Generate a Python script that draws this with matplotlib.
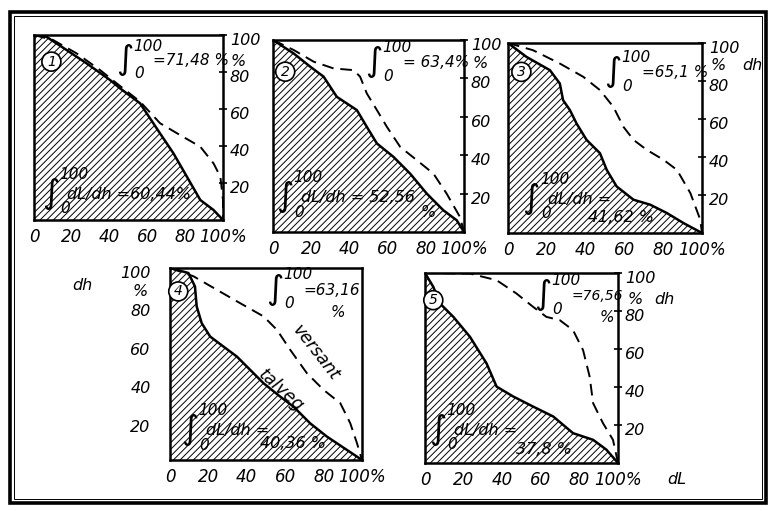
import matplotlib.pyplot as plt
from matplotlib.patches import Rectangle
from matplotlib.transforms import ScaledTranslation

plt.rcParams['font.family'] = ['DejaVu Sans']
plt.rcParams['font.style'] = 'italic'
plt.rcParams['hatch.linewidth'] = 0.7

W, H = 773, 511

# talveg (solid) and versant (dashed) curves, % dL vs % dh
talveg_x = [
    [0, 6.5, 17.2, 27.8, 40.2, 45.5, 56.1, 66.7, 73.8, 80.9, 88.0, 95.0, 100],
    [0, 10.8, 19.5, 26.5, 33.4, 43.9, 49.1, 54.4, 63.1, 71.8, 80.5, 89.2, 96.2, 100],
    [0, 9.5, 21.6, 26.7, 28.4, 31.9, 35.3, 40.5, 47.4, 50.9, 56.0, 64.7, 73.3, 81.9, 90.5, 100],
    [0, 9.6, 13.0, 13.9, 16.5, 20.9, 27.8, 34.8, 41.7, 48.7, 57.4, 64.3, 73.0, 81.7, 92.2, 100],
    [0, 4.3, 7.8, 14.7, 23.3, 31.9, 37.1, 45.7, 56.0, 66.4, 76.7, 87.1, 94.0, 100],
]
talveg_y = [
    [100, 99.1, 91.9, 84.7, 75.7, 71.2, 63.1, 46.8, 36.0, 23.4, 10.8, 5.4, 0],
    [100, 93.0, 86.1, 80.9, 70.4, 63.5, 54.8, 46.1, 39.1, 30.4, 20.0, 11.3, 6.1, 0],
    [100, 92.7, 85.7, 78.7, 69.9, 64.7, 57.7, 49.0, 42.0, 33.2, 24.5, 17.5, 14.9, 10.5, 5.2, 0],
    [100, 97.4, 90.4, 80.0, 71.3, 64.3, 59.1, 53.9, 47.0, 40.0, 33.0, 27.8, 19.1, 12.2, 5.2, 0],
    [100, 92.7, 83.9, 76.9, 66.4, 52.4, 40.2, 35.0, 29.7, 24.5, 15.7, 12.2, 7.0, 0],
]
versant_x = [
    [0, 10.1, 22.5, 34.9, 43.7, 56.1, 66.7, 77.3, 88.0, 95.0, 98.6, 100, 100],
    [0, 10.8, 21.3, 31.7, 42.2, 45.6, 49.1, 54.4, 59.6, 66.6, 75.3, 84.0, 90.9, 97.9, 100],
    [0, 12.9, 26.7, 38.8, 47.4, 54.3, 59.5, 64.7, 71.6, 80.2, 87.1, 94.0, 99.1, 100],
    [0, 12.2, 24.3, 36.5, 48.7, 55.7, 62.6, 71.3, 80.0, 88.7, 93.9, 97.4, 100],
    [0, 23.3, 37.1, 47.4, 56.0, 62.9, 69.8, 76.7, 81.9, 85.3, 87.1, 92.2, 97.4, 100],
]
versant_y = [
    [100, 97.3, 90.1, 81.1, 73.9, 64.0, 52.3, 45.9, 39.6, 30.6, 23.4, 10.8, 0],
    [100, 94.8, 88.7, 85.2, 84.3, 80.9, 72.2, 63.5, 54.8, 44.3, 37.4, 30.4, 20.0, 7.8, 0],
    [100, 96.2, 89.2, 82.2, 75.2, 66.4, 55.9, 49.0, 43.7, 38.5, 33.2, 21.0, 7.0, 0],
    [100, 95.7, 88.7, 81.7, 74.8, 67.8, 57.4, 45.2, 36.5, 29.6, 19.1, 8.7, 0],
    [100, 99.7, 96.2, 89.2, 82.2, 76.9, 75.2, 69.9, 59.4, 45.5, 31.5, 21.0, 12.2, 0],
]
versant_int = ['=71,48 %', '= 63,4%', '=65,1 %', '=63,16', '=76,56']
talveg_int = ['dL/dh =60,44%', 'dL/dh = 52,56', 'dL/dh =', 'dL/dh =', 'dL/dh =']
talveg_pct = ['', '%', '41,62 %', '40,36 %', '37,8 %']

xticks = [0, 20, 40, 60, 80, 100]
xlabels = ['0', '20', '40', '60', '80', '100%']
yticks = [20, 40, 60, 80, 100]
ylabels = ['20', '40', '60', '80', '100']

# axes boxes in pixels: left, top, right, bottom
boxes = [(34, 35, 223, 220), (273, 40, 464, 232), (508, 43, 702, 233),
         (170, 268, 362, 460), (425, 273, 618, 463)]

# annotation positions (axes fractions)
up_pos = [(0.48, 0.865), (0.53, 0.887), (0.54, 0.848), (0.545, 0.89), (0.61, 0.885)]
lo_pos = [(0.09, 0.144), (0.06, 0.183), (0.12, 0.183), (0.105, 0.157), (0.065, 0.175)]
circ_pos = [(0.092, 0.856), (0.064, 0.835), (0.069, 0.848), (0.043, 0.878), (0.043, 0.857)]
pct_pos = [None, (0.77, 0.104), (0.414, 0.079), (0.47, 0.087), (0.474, 0.07)]


def px(x, y):
    return x / W, 1 - y / H


fig = plt.figure(figsize=(W / 100, H / 100), dpi=100)
shift = ScaledTranslation(0, -4 / 100, fig.dpi_scale_trans)

for i in range(5):
    l, t, r, b = boxes[i]
    ax = fig.add_axes([l / W, 1 - b / H, (r - l) / W, (b - t) / H])
    ax.set_xlim(0, 100)
    ax.set_ylim(0, 100)
    ax.fill_between(talveg_x[i], 0, talveg_y[i], facecolor='none',
                    edgecolor='black', hatch='/////', linewidth=0)
    ax.plot(talveg_x[i], talveg_y[i], color='black', lw=1.8)
    ax.plot(versant_x[i], versant_y[i], color='black', lw=1.4, dashes=(6, 3.5))
    for s in ax.spines.values():
        s.set_linewidth(1.8)

    ax.set_xticks(xticks)
    ax.set_xticklabels(xlabels, fontsize=12)
    ax.tick_params(axis='x', length=0, pad=6)
    ax.set_yticks(yticks)
    ax.set_yticklabels(ylabels, fontsize=11.5)
    if i == 3:
        ax.tick_params(axis='y', length=0, pad=14)
    else:
        ax.yaxis.tick_right()
        ax.tick_params(axis='y', direction='inout', length=6, width=1.2, pad=2)
    for lab in ax.get_yticklabels():
        lab.set_transform(lab.get_transform() + shift)

    # upper integral (versant)
    ux, uy = up_pos[i]
    ax.text(ux, uy, '\u222b', transform=ax.transAxes, fontsize=24,
            ha='center', va='center', style='normal')
    ax.text(ux + 0.12, uy + 0.075, '100', transform=ax.transAxes, fontsize=11,
            ha='center', va='center')
    ax.text(ux + 0.075, uy - 0.075, '0', transform=ax.transAxes, fontsize=11,
            ha='center', va='center')
    ax.text(ux + 0.15, uy - 0.005, versant_int[i], transform=ax.transAxes,
            fontsize=10 if i == 4 else 11, ha='left', va='center')
    if i in (3, 4):
        ax.text(ux + 0.33, uy - 0.12, '%', transform=ax.transAxes, fontsize=11,
                ha='center', va='center')

    # lower integral (talveg)
    lx, ly = lo_pos[i]
    ax.text(lx, ly, '\u222b', transform=ax.transAxes, fontsize=24,
            ha='center', va='center', style='normal')
    ax.text(lx + 0.12, ly + 0.1, '100', transform=ax.transAxes, fontsize=11,
            ha='center', va='center')
    ax.text(lx + 0.075, ly - 0.08, '0', transform=ax.transAxes, fontsize=11,
            ha='center', va='center')
    ax.text(lx + 0.085, ly - 0.005, talveg_int[i], transform=ax.transAxes,
            fontsize=11.5, ha='left', va='center')
    if pct_pos[i]:
        ax.text(pct_pos[i][0], pct_pos[i][1], talveg_pct[i], transform=ax.transAxes,
                fontsize=11.5, ha='left', va='center')

    cx, cy = circ_pos[i]
    ax.text(cx, cy, str(i + 1), transform=ax.transAxes, fontsize=10,
            ha='center', va='center',
            bbox=dict(boxstyle='circle,pad=0.18', fc='white', ec='black', lw=1.2))

    if i == 3:
        ax.text(0.76, 0.56, 'versant', transform=ax.transAxes, fontsize=12.5,
                rotation=-52, ha='center', va='center')
        ax.text(0.58, 0.36, 'talveg', transform=ax.transAxes, fontsize=12.5,
                rotation=-42, ha='center', va='center')

# extra axis labels
for x, y, s in [(238, 61, '%'), (480, 64, '%'), (718, 66, '%'), (752, 66, 'dh'),
                (140, 292, '%'), (82, 286, 'dh'), (635, 299, '%'), (664, 299, 'dh'),
                (677, 480, 'dL')]:
    fx, fy = px(x, y)
    fig.text(fx, fy, s, fontsize=11.5, ha='center', va='center')

# outer frame
fig.add_artist(Rectangle(px(10, 503), 756 / W, 491 / H, fill=False,
                         lw=2.6, ec='black', transform=fig.transFigure))
fig.add_artist(Rectangle(px(14, 499), 748 / W, 483 / H, fill=False,
                         lw=0.7, ec='black', transform=fig.transFigure))

plt.savefig('out.png', dpi=100)
